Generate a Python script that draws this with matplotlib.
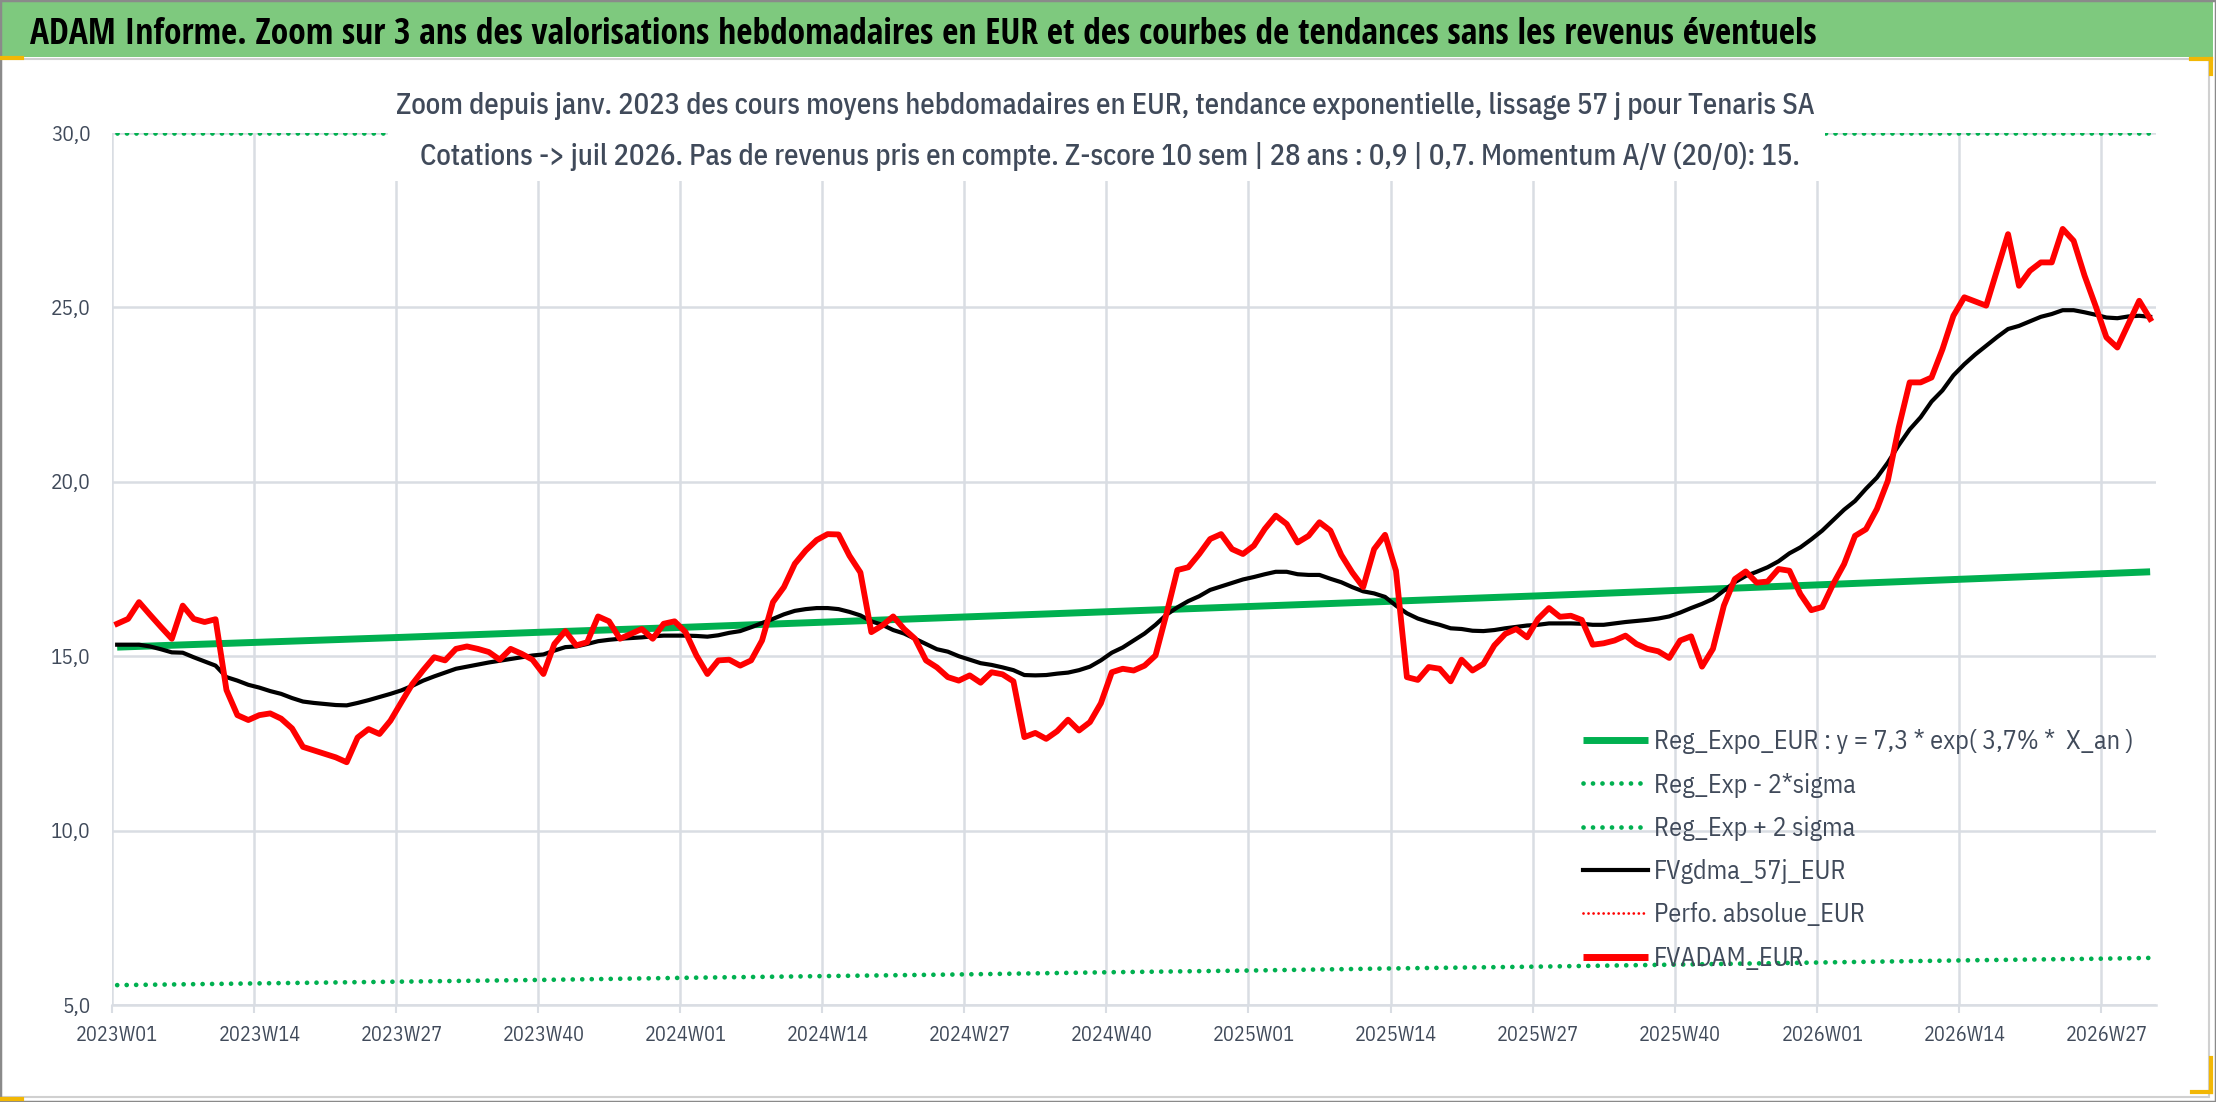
import matplotlib
matplotlib.use("Agg")
import matplotlib.pyplot as plt
from matplotlib import font_manager as fm
from matplotlib.lines import Line2D
from matplotlib.patches import Rectangle

# ---------------- DATA ----------------
weeks = [f"{y}W{w:02d}" for y, n in ((2023, 52), (2024, 52), (2025, 52), (2026, 31))
         for w in range(1, n + 1)]

# FVADAM_EUR (red), weekly
fvadam = [
    15.93, 16.07, 16.55, 16.19, 15.84, 15.50, 16.45, 16.07, 15.98, 16.06,
    14.03, 13.31, 13.17, 13.31, 13.36, 13.21, 12.93, 12.40, 12.30, 12.20,
    12.10, 11.96, 12.67, 12.91, 12.77, 13.15, 13.68, 14.20, 14.60, 14.97,
    14.88, 15.21, 15.28, 15.21, 15.12, 14.90, 15.21, 15.07, 14.90, 14.49,
    15.35, 15.72, 15.31, 15.40, 16.14, 16.00, 15.50, 15.64, 15.78, 15.50,
    15.93, 16.00, 15.69, 15.02, 14.49, 14.88, 14.90, 14.73, 14.88, 15.45,
    16.55, 16.98, 17.65, 18.03, 18.33, 18.50, 18.49, 17.88, 17.40, 15.69,
    15.88, 16.14, 15.78, 15.50, 14.88, 14.68, 14.40, 14.30, 14.45, 14.24,
    14.54, 14.48, 14.28, 12.68, 12.80, 12.63, 12.85, 13.18, 12.87, 13.11,
    13.65, 14.54, 14.64, 14.59, 14.73, 15.02, 16.21, 17.47, 17.55, 17.93,
    18.36, 18.50, 18.07, 17.93, 18.17, 18.65, 19.03, 18.79, 18.26, 18.45,
    18.84, 18.60, 17.90, 17.40, 16.98, 18.07, 18.48, 17.45, 14.40, 14.32,
    14.69, 14.64, 14.28, 14.90, 14.59, 14.78, 15.31, 15.64, 15.78, 15.54,
    16.07, 16.38, 16.13, 16.16, 16.04, 15.33, 15.37, 15.45, 15.59, 15.35,
    15.21, 15.14, 14.95, 15.45, 15.57, 14.70, 15.21, 16.45, 17.21, 17.43,
    17.11, 17.14, 17.50, 17.45, 16.78, 16.32, 16.41, 17.07, 17.64, 18.45,
    18.64, 19.22, 20.03, 21.56, 22.85, 22.85, 22.99, 23.80, 24.76, 25.29,
    25.17, 25.05, 26.08, 27.10, 25.62, 26.05, 26.29, 26.29, 27.25, 26.91,
    25.91, 25.05, 24.14, 23.85, 24.52, 25.19, 24.67,
]

# FVgdma_57j_EUR (black), weekly
fvgdma = [
    15.33, 15.33, 15.33, 15.28, 15.20, 15.11, 15.10, 14.97, 14.85, 14.73,
    14.40, 14.30, 14.18, 14.10, 14.00, 13.92, 13.80, 13.70, 13.66, 13.63,
    13.60, 13.59, 13.66, 13.74, 13.83, 13.92, 14.02, 14.15, 14.30, 14.42,
    14.53, 14.64, 14.70, 14.76, 14.82, 14.87, 14.92, 14.97, 15.02, 15.05,
    15.16, 15.26, 15.28, 15.35, 15.43, 15.47, 15.50, 15.52, 15.54, 15.57,
    15.59, 15.59, 15.59, 15.58, 15.56, 15.60, 15.67, 15.72, 15.83, 15.95,
    16.07, 16.20, 16.30, 16.35, 16.38, 16.38, 16.35, 16.27, 16.17, 16.00,
    15.90, 15.75, 15.65, 15.50, 15.35, 15.20, 15.13, 15.00, 14.90, 14.80,
    14.75, 14.68, 14.60, 14.46, 14.45, 14.46, 14.50, 14.53, 14.60, 14.70,
    14.88, 15.10, 15.25, 15.45, 15.65, 15.90, 16.19, 16.40, 16.58, 16.72,
    16.90, 17.00, 17.10, 17.20, 17.27, 17.35, 17.42, 17.42, 17.35, 17.33,
    17.33, 17.22, 17.12, 16.98, 16.86, 16.80, 16.70, 16.45, 16.23, 16.08,
    15.98, 15.90, 15.80, 15.78, 15.73, 15.72, 15.75, 15.80, 15.84, 15.88,
    15.90, 15.94, 15.94, 15.94, 15.93, 15.90, 15.90, 15.94, 15.98, 16.01,
    16.04, 16.08, 16.14, 16.25, 16.38, 16.50, 16.64, 16.88, 17.12, 17.30,
    17.42, 17.55, 17.72, 17.95, 18.12, 18.35, 18.60, 18.90, 19.20, 19.45,
    19.80, 20.12, 20.55, 21.05, 21.50, 21.85, 22.30, 22.62, 23.05, 23.37,
    23.65, 23.90, 24.15, 24.38, 24.47, 24.60, 24.73, 24.81, 24.92, 24.92,
    24.86, 24.79, 24.71, 24.69, 24.74, 24.76, 24.73,
]

# trend lines, read at the labelled weeks and at the last week
trend_idx = [0, 13, 26, 39, 52, 65, 78, 91, 104, 117, 130, 143, 156, 169, 182, 186]
reg_expo = [15.26, 15.40, 15.54, 15.69, 15.83, 15.98, 16.13, 16.28,
            16.43, 16.58, 16.73, 16.89, 17.05, 17.21, 17.37, 17.42]
sigma_low = [5.57, 5.62, 5.67, 5.72, 5.78, 5.83, 5.88, 5.94,
             5.99, 6.05, 6.10, 6.16, 6.22, 6.28, 6.33, 6.35]
# +2 sigma sits above the axis max: Excel shows it on the 30,0 edge
sigma_high = [30.0, 30.0, 30.0, 30.0, 30.0, 30.0, 30.0, 30.0,
              30.0, 30.0, 30.0, 30.0, 30.0, 30.0, 30.0, 30.0]

y_ticks = [5, 10, 15, 20, 25, 30]
y_labels = ["5,0", "10,0", "15,0", "20,0", "25,0", "30,0"]
label_idx = list(range(0, len(weeks), 13))

title = ("ADAM Informe. Zoom sur 3 ans des valorisations hebdomadaires en EUR "
         "et des courbes de tendances sans les revenus éventuels")
sub1 = ("Zoom depuis janv. 2023 des cours moyens hebdomadaires en EUR, tendance "
        "exponentielle, lissage 57 j pour Tenaris SA")
sub2 = ("Cotations -> juil 2026. Pas de revenus pris en compte. Z-score 10 sem | "
        "28 ans : 0,9 | 0,7. Momentum A/V (20/0): 15.")
legend_labels = ["Reg_Expo_EUR : y = 7,3 * exp( 3,7% *  X_an )", "Reg_Exp - 2*sigma",
                 "Reg_Exp + 2 sigma", "FVgdma_57j_EUR", "Perfo. absolue_EUR", "FVADAM_EUR"]

# ---------------- STYLE ----------------
names = {f.name for f in fm.fontManager.ttflist}
def pick(*cands):
    return next((n for n in cands if n in names), "DejaVu Sans")

FONT = pick("IBM Plex Sans Condensed", "Roboto Condensed", "Liberation Sans Narrow", "Liberation Sans")
FONT_T = pick("Open Sans Condensed", "IBM Plex Sans Condensed", "Liberation Sans")
plt.rcParams["font.family"] = [FONT, "DejaVu Sans"]

GREEN = "#00B050"
BAND = "#7EC97E"
GRID = "#D9DDE3"
TXT = "#404A5A"

W, H = 2216, 1102
def fx(px):
    return px / W
def fy(py):
    return 1 - py / H

fig = plt.figure(figsize=(W / 100, H / 100), dpi=100)
r = fig.canvas.get_renderer()

def fit_size(s, target, **kw):
    t = fig.text(0, 0, s, fontsize=20, **kw)
    w = t.get_window_extent(r).width
    t.remove()
    return 20 * target / w

# frame, title band and selection corners
fig.add_artist(Rectangle((fx(1), fy(1097)), fx(2208), fy(59) - fy(1097), transform=fig.transFigure,
                         fc="white", ec="#D0D0D0", lw=1.5, zorder=-1))
fig.add_artist(Rectangle((0, fy(57)), fx(2213), fy(0) - fy(57), transform=fig.transFigure,
                         fc=BAND, ec="none", zorder=-1))
fig.add_artist(Rectangle((0, 0), 1, 1, transform=fig.transFigure, fc="none", ec="#8A8A8A", lw=2.5))
for xs, ys in [((0, 22), (58, 58)), ((0, 22), (1099, 1099)), ((2191, 2211), (59, 59)),
               ((2211, 2211), (59, 74)), ((2211, 2211), (1058, 1092)), ((2192, 2211), (1092, 1092))]:
    fig.add_artist(Line2D([fx(v) for v in xs], [fy(v) for v in ys], color="#F2B705", lw=3))

tfam = [FONT_T, "DejaVu Sans"]
fs_title = fit_size(title, 1787, weight="bold", family=tfam)
fig.text(fx(30), fy(44), title, fontsize=fs_title, weight="bold", family=tfam,
         color="black", va="baseline")

# plot area
ax = fig.add_axes([fx(111.7), fy(1005), fx(2155.6) - fx(111.7), fy(133) - fy(1005)])
x = list(range(len(weeks)))

ax.plot(trend_idx, reg_expo, color=GREEN, lw=5.0, solid_capstyle="butt", zorder=3)
ax.plot(trend_idx, sigma_low, color=GREEN, lw=3.4, ls=(0, (0.01, 2.0)),
        dash_capstyle="round", zorder=3)
ax.plot(trend_idx, sigma_high, color=GREEN, lw=3.4, ls=(0, (0.01, 2.0)),
        dash_capstyle="round", zorder=3)
ax.plot(x, fvgdma, color="black", lw=3.0, zorder=4)
ax.plot(x, fvadam, color="#FF0000", lw=4.2, zorder=5)

ax.set_xlim(-0.5, len(weeks) - 0.5)
ax.set_ylim(5, 30)
ax.set_xticks([i - 0.5 for i in label_idx])
ax.set_xticklabels([])
ax.set_xticks(label_idx, minor=True)
fs_tick = fit_size("2023W01", 82)
ax.set_xticklabels([weeks[i] for i in label_idx], minor=True, fontsize=fs_tick, color=TXT)
ax.set_yticks(y_ticks, y_labels, fontsize=fs_tick * 1.05, color=TXT)
ax.tick_params(axis="x", which="major", length=6, width=1.5, color=GRID)
ax.tick_params(axis="x", which="minor", length=0, pad=15)
ax.tick_params(axis="y", length=0, pad=15)
ax.grid(True, which="major", color=GRID, lw=1.8)
ax.set_axisbelow(True)
for side in ("top", "right", "left"):
    ax.spines[side].set_visible(False)
ax.spines["bottom"].set_color(GRID)
ax.spines["bottom"].set_linewidth(1.8)

# subtitle on a white box (hides the +2 sigma line behind it)
fig.add_artist(Rectangle((fx(388), fy(181)), fx(1825) - fx(388), fy(84) - fy(181),
                         transform=fig.transFigure, fc="white", ec="none", zorder=2))
fs_sub = fit_size(sub1, 1415, weight=500)
fig.text(fx(1105), fy(114), sub1, fontsize=fs_sub, weight=500, color=TXT,
         ha="center", va="baseline", zorder=3)
fig.text(fx(1110), fy(165), sub2, fontsize=fs_sub, weight=500, color=TXT,
         ha="center", va="baseline", zorder=3)

# legend
fs_leg = fit_size(legend_labels[0], 478)
px = fs_leg * 100 / 72
handles = [
    Line2D([], [], color=GREEN, lw=5.0, solid_capstyle="butt"),
    Line2D([], [], color=GREEN, lw=3.4, ls=(0, (0.01, 2.0)), dash_capstyle="round"),
    Line2D([], [], color=GREEN, lw=3.4, ls=(0, (0.01, 2.0)), dash_capstyle="round"),
    Line2D([], [], color="black", lw=3.0),
    Line2D([], [], color="#FF0000", lw=2.0, ls=(0, (0.01, 1.8)), dash_capstyle="round"),
    Line2D([], [], color="#FF0000", lw=5.0, solid_capstyle="butt"),
]

def make_legend(spacing, anchor):
    return ax.legend(handles, legend_labels, loc="upper left", bbox_to_anchor=anchor,
                     bbox_transform=fig.transFigure, frameon=False, fontsize=fs_leg,
                     handlelength=65 / px, handletextpad=6 / px, labelspacing=spacing,
                     borderpad=0, borderaxespad=0, labelcolor=TXT)

def centers(lg):
    fig.canvas.draw()
    ext = [t.get_window_extent(r) for t in lg.get_texts()]
    return ext[0], [(e.y0 + e.y1) / 2 for e in ext]

spacing = 0.5
leg = make_legend(spacing, (fx(1584), fy(720)))
_, cy = centers(leg)
step = (cy[0] - cy[-1]) / 5
spacing += (43.3 - step) / px
leg = make_legend(spacing, (fx(1584), fy(720)))
t0, cy = centers(leg)
dx = 1654 - t0.x0
dy = (H - 741.7) - cy[0]
leg.set_bbox_to_anchor((fx(1584 + dx), fy(720 - dy)), transform=fig.transFigure)
leg.set_zorder(6)

fig.savefig("out.png", dpi=100)
